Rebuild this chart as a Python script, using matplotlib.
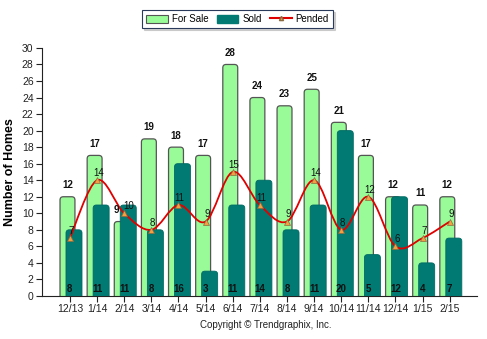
import matplotlib
matplotlib.use("Agg")
import matplotlib.pyplot as plt
import numpy as np
from matplotlib.path import Path
from matplotlib.patches import PathPatch, FancyBboxPatch, Patch
from matplotlib.lines import Line2D

months = ["12/13", "1/14", "2/14", "3/14", "4/14", "5/14", "6/14", "7/14",
          "8/14", "9/14", "10/14", "11/14", "12/14", "1/15", "2/15"]
for_sale = [12, 17, 9, 19, 18, 17, 28, 24, 23, 25, 21, 17, 12, 11, 12]
sold = [8, 11, 11, 8, 16, 3, 11, 14, 8, 11, 20, 5, 12, 4, 7]
pended = [7, 14, 10, 8, 11, 9, 15, 11, 9, 14, 8, 12, 6, 7, 9]

GREEN = "#98fb98"
TEAL = "#007a72"
RED = "#e00000"
EDGE = "#555555"

plt.rcParams["font.family"] = ["Liberation Sans", "DejaVu Sans"]

fig = plt.figure(figsize=(4.87, 3.39), dpi=100, facecolor="white")
ax = fig.add_axes([0.0862, 0.127, 0.893, 0.7316])
ax.set_xlim(-1.03, 15.0)
ax.set_ylim(0, 30)

x = np.arange(len(months))
bars_sale = ax.bar(x - 0.09, for_sale, width=0.55, color=GREEN,
                   edgecolor=EDGE, linewidth=0.9, zorder=2)
bars_sold = ax.bar(x + 0.15, sold, width=0.59, color=TEAL,
                   edgecolor=TEAL, linewidth=0.5, zorder=3)

# rounded tops: swap each rectangle for a rounded box of the same size
aspect = (30 / 248.0) / (16.03 / 435.0)
for bars, fc, ec, lw, z in [(bars_sale, GREEN, EDGE, 0.9, 2),
                            (bars_sold, TEAL, "#006a63", 0.6, 3)]:
    for r in bars:
        r.set_visible(False)
        ax.add_patch(FancyBboxPatch(
            (r.get_x(), -1.0), r.get_width(), r.get_height() + 1.0,
            boxstyle="round,pad=0,rounding_size=0.12",
            mutation_aspect=aspect, facecolor=fc, edgecolor=ec,
            linewidth=lw, zorder=z))

# smooth curve through pended points (Catmull-Rom -> cubic Bezier)
pts = np.column_stack([x, pended]).astype(float)
verts = [tuple(pts[0])]
codes = [Path.MOVETO]
for i in range(len(pts) - 1):
    p0 = pts[i - 1] if i > 0 else pts[i]
    p1, p2 = pts[i], pts[i + 1]
    p3 = pts[i + 2] if i + 2 < len(pts) else pts[i + 1]
    c1 = p1 + (p2 - p0) / 6.0
    c2 = p2 - (p3 - p1) / 6.0
    verts += [tuple(c1), tuple(c2), tuple(p2)]
    codes += [Path.CURVE4] * 3
ax.add_patch(PathPatch(Path(verts, codes), facecolor="none", edgecolor=RED,
                       linewidth=1.3, zorder=4))
ax.plot(x, pended, linestyle="none", marker="^", markersize=5,
        markerfacecolor="#f5a040", markeredgecolor="#8a6a40",
        markeredgewidth=0.5, zorder=5)

for xi, v, p in zip(x, for_sale, pended):
    # labels that would sit on top of a pended label get nudged apart
    close = abs((v + 0.8) - (p + 0.25)) < 1.2
    ax.text(xi - (0.3 if close else 0.09), v + 0.8, str(v), ha="center",
            va="bottom", fontsize=7, fontweight="bold", color="#111111",
            zorder=6)
    ax.text(xi + (0.15 if close else 0.05), p + 0.25, str(p), ha="center",
            va="bottom", fontsize=7, color="#111111", zorder=6)
for xi, v in zip(x, sold):
    ax.text(xi, 0.85, str(v), ha="center", va="center",
            fontsize=7, fontweight="bold", color="#111111", zorder=6)

ax.set_yticks(range(0, 31, 2))
ax.set_xticks(x)
ax.set_xticklabels(months)
ax.tick_params(axis="both", labelsize=7.5, length=4, width=0.8,
               colors="#222222", pad=2)
for s in ["top", "right"]:
    ax.spines[s].set_visible(False)
for s in ["left", "bottom"]:
    ax.spines[s].set_linewidth(0.8)
    ax.spines[s].set_color("#222222")
ax.set_ylabel("Number of Homes", fontsize=9, fontweight="bold", labelpad=4)

handles = [Patch(facecolor=GREEN, edgecolor=EDGE, linewidth=0.8, label="For Sale"),
           Patch(facecolor=TEAL, edgecolor=TEAL, label="Sold"),
           Line2D([0], [0], color=RED, linewidth=1.5, marker="^", markersize=3,
                  markerfacecolor="#f5a040", markeredgecolor="#8a6a40",
                  label="Pended")]
leg = fig.legend(handles=handles, loc="center", bbox_to_anchor=(0.488, 0.944),
                 ncol=3, fontsize=7, frameon=True, fancybox=False,
                 shadow={"ox": 1.5, "oy": -1.5, "color": "#aaaaaa"},
                 handlelength=2.2, handleheight=0.9, columnspacing=0.9,
                 handletextpad=0.4, borderpad=0.45, borderaxespad=0.3)
leg.get_frame().set_edgecolor("#2a3a5a")
leg.get_frame().set_linewidth(0.8)

fig.text(0.545, 0.042, "Copyright \u00a9 Trendgraphix, Inc.", ha="center",
         va="center", fontsize=7, color="#222222")

fig.savefig("out.png", dpi=100, facecolor="white")
